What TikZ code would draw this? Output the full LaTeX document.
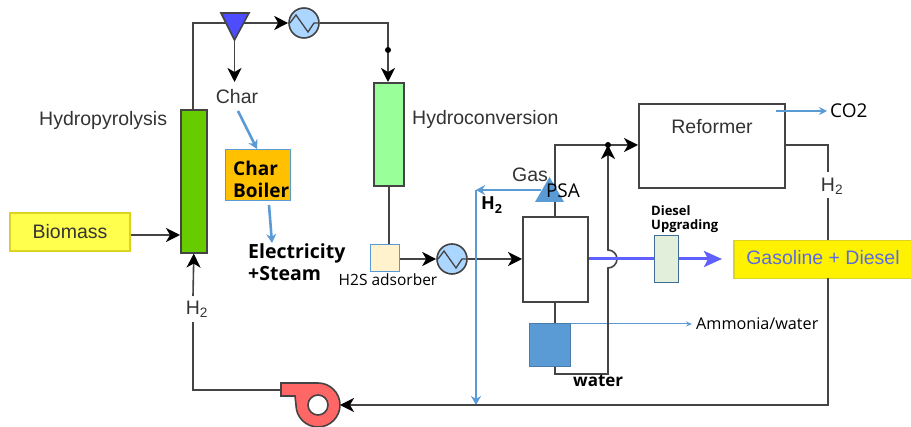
\documentclass[tikz,border=0pt]{standalone}
\usepackage{fontspec}
\setmainfont{Liberation Sans}
\newfontfamily\opensans{Open Sans}
\usetikzlibrary{arrows.meta}
\definecolor{linegray}{HTML}{444444}
\definecolor{textgray}{HTML}{333333}
\definecolor{paleblue}{HTML}{5B9BD5}
\definecolor{flowblue}{HTML}{6060FF}
\definecolor{pyrogreen}{HTML}{66CC00}
\definecolor{hydrogreen}{HTML}{99FF99}
\definecolor{heaterblue}{HTML}{AAD6FF}
\definecolor{cycloneblue}{HTML}{4D4DFF}
\definecolor{boilerorange}{HTML}{FFC000}
\definecolor{adsorbcream}{HTML}{FFF2CC}
\definecolor{dieselgreen}{HTML}{E2EFDA}
\definecolor{pumpred}{HTML}{FF6666}
\definecolor{biomassyellow}{HTML}{FFFF4D}
\definecolor{gasolineblue}{HTML}{5A6CE0}
\tikzset{
  unit/.style={draw=linegray,line width=1.6pt,inner sep=0pt,anchor=north west},
  label/.style={text=textgray,font=\fontsize{19.5}{22}\selectfont,inner sep=0pt},
  tag/.style={font=\opensans\bfseries\fontsize{#1}{#1}\selectfont,inner sep=0pt},
  note/.style={font=\opensans\fontsize{#1}{#1}\selectfont,inner sep=0pt},
  heater/.style={circle,draw=linegray,line width=1.6pt,fill=heaterblue,minimum size=30pt,inner sep=0pt},
  pipe/.style={draw=linegray,line width=1.6pt},
  feed/.style={draw=linegray,line width=1.6pt,-{Stealth[length=14pt,width=14pt,inset=4pt,color=black]}},
  bluearrow/.style={draw=paleblue,line width=2.6pt,-{Stealth[length=9pt,width=10pt]}},
  oilarrow/.style={draw=flowblue,line width=3pt,-{Stealth[length=18pt,width=16pt,inset=4pt]}},
}
\begin{document}
\begin{tikzpicture}[x=1pt,y=1pt]
  \useasboundingbox (0,0) rectangle (911,-427);
  % feed and columns
  \node[draw=yellow!85!black,line width=1.5pt,fill=biomassyellow,minimum width=120pt,minimum height=38pt,inner sep=0pt] (biomass) at (70,-232) {};
  \node[label] (biomasstext) at (biomass.center) {Biomass};
  \node[unit,fill=pyrogreen,minimum width=26pt,minimum height=143pt] (pyro) at (180,-109) {};
  \node[unit,fill=hydrogreen,minimum width=30pt,minimum height=103pt] (hydro) at (373,-82) {};
  \node[label,anchor=west] (pyrotext) at (39,-120) {Hydropyrolysis};
  \node[label,anchor=west] (hydrotext) at (412,-119) {Hydroconversion};
  % heaters
  \foreach \name/\x/\y in {hta/304/-23, htb/452/-259} {
    \node[heater] (\name) at (\x,\y) {};
    \draw[linegray,line width=1.3pt] ([xshift=-14pt]\name.center) -- ++(6,8) -- ++(12,-17) -- ++(6,9) -- ++(5,0);
  }
  % cyclone
  \coordinate (cyctl) at (221,-13);
  \coordinate (cyctr) at (249,-13);
  \coordinate (cycb) at (234.5,-40);
  \draw[pipe,fill=cycloneblue] (cyctl) -- (cyctr) -- (cycb) -- cycle;
  \node[label] (chartext) at (237,-97) {Char};
  \node[draw=paleblue,line width=1pt,fill=boilerorange,minimum width=65pt,minimum height=51pt,inner sep=0pt,anchor=north west] (boiler) at (225,-149) {};
  \node[tag=19,align=left,anchor=west] (boilertext) at (233,-179) {Char\\[3pt]Boiler};
  \node[tag=19.5,align=left,anchor=north west] (elec) at (248,-243) {Electricity\\[3pt]+Steam};
  \coordinate (pyrotop) at (193,-109);
  \coordinate (pyrocorner) at (193,-23);
  \draw[pipe] (pyrotop) -- (pyrocorner) -- (226,-23);
  \draw[feed] (244,-23) -- (hta.west);
  \draw[feed] (cycb) -- (234.5,-82);
  \coordinate (hydrotop) at (388,-82);
  \draw[feed] (hta.east) -| (hydrotop);
  \fill[black] (388,-50) circle (3pt);
  \draw[feed] (biomass.east |- 0,-235) -- (pyro.west |- 0,-235);
  \coordinate (charout) at (238,-111);
  \coordinate (boilerin) at (257,-149);
  \draw[bluearrow] (charout) -- (boilerin);
  \coordinate (boilerout) at (269,-205);
  \coordinate (elecin) at (272,-243);
  \draw[bluearrow] (boilerout) -- (elecin);
  % adsorber and separator
  \node[draw=paleblue,line width=1pt,fill=adsorbcream,minimum width=29pt,minimum height=27pt,inner sep=0pt,anchor=north west] (adsorb) at (370,-244) {};
  \node[note=15.5] (adsorbtext) at (388,-280) {H2S adsorber};
  \node[unit,minimum width=65pt,minimum height=85pt] (sep) at (522,-216) {};
  \node[draw=paleblue!80!black,line width=1pt,fill=paleblue,minimum width=41pt,minimum height=43pt,inner sep=0pt,anchor=north west] (bluebox) at (529,-323) {};
  \node[note=16.2,anchor=west] (ammonia) at (696,-324) {Ammonia/water};
  \draw[pipe] (hydro.south) -- (hydro.south |- adsorb.north);
  \draw[feed] (adsorb.east |- 0,-259) -- (htb.west);
  \draw[feed] (htb.east) -- (sep.west |- htb);
  \draw[paleblue,line width=1pt,-{Stealth[length=6pt,width=5pt]},shorten >=4pt] (bluebox.east |- 0,-324) -- (ammonia.west);
  \coordinate (sepbot) at (555,-301);
  \draw[pipe] (sepbot) -- (sepbot |- bluebox.north);
  % gas to the reformer
  \node[unit,minimum width=146pt,minimum height=84pt] (reformer) at (638,-103) {};
  \node[label] (reformertext) at (712,-127) {Reformer};
  \coordinate (septop) at (555,-216);
  \coordinate (gasjoin) at (608,-145);
  \draw[pipe] (septop) -- (555,-145) -- (gasjoin);
  \draw[feed] (gasjoin) -- (reformer.west |- gasjoin);
  \coordinate (wetbot) at (555,-374);
  \draw[pipe] (wetbot |- bluebox.south) -- (wetbot) -- (608,-374) -- (608,-268) arc[start angle=-90,end angle=90,radius=9pt] -- (608,-162);
  \draw[feed] (608,-162) -- (gasjoin);
  \fill[black] (gasjoin) circle (3pt);
  \node[tag=17,anchor=west] (watertext) at (573,-381) {water};
  \node[label] (gastext) at (530,-175) {Gas};
  % PSA
  \coordinate (psal) at (535,-202);
  \coordinate (psar) at (564,-202);
  \coordinate (psat) at (549.5,-177);
  \fill[paleblue] (psal) -- (psar) -- (psat) -- cycle;
  \node[note=19] (psatext) at (563,-191) {PSA};
  \coordinate (h2corner) at (476,-190);
  \coordinate (h2end) at (476,-405);
  \draw[bluearrow] (541,-190) -- (h2corner);
  \draw[bluearrow] (h2corner) -- (h2end);
  \node[tag=18,anchor=west] (h2blue) at (481,-205) {H\textsubscript{2}};
  % products
  \node[draw=paleblue!70!black,line width=1pt,fill=dieselgreen,minimum width=24pt,minimum height=47pt,inner sep=0pt,anchor=north west] (diesel) at (654,-235) {};
  \node[tag=13,align=left,anchor=south west] (dieseltext) at (651,-233) {Diesel\\[1pt]Upgrading};
  \draw[draw=flowblue,line width=3pt] (sep.east |- 0,-259) -- (diesel.west |- 0,-259);
  \coordinate (oilend) at (722,-259);
  \draw[oilarrow] (diesel.east |- oilend) -- (oilend);
  \node[draw=yellow!85!black,line width=1.5pt,fill=yellow,minimum width=178pt,minimum height=38pt,inner sep=0pt,anchor=north west] (gasoline) at (733,-240) {};
  \node[label,text=gasolineblue] (gasolinetext) at (823,-258) {Gasoline + Diesel};
  \coordinate (co2start) at (776,-111);
  \node[note=19,anchor=west] (co2) at (830,-111) {CO2};
  \draw[paleblue,line width=1.6pt,-{Stealth[length=8pt,width=8pt]},shorten >=3pt] (co2start) -- (co2.west);
  % hydrogen return
  \node[label] (h2right) at (832,-186) {H\textsubscript{2}};
  \node[label] (h2left) at (197,-309) {H\textsubscript{2}};
  \coordinate (pumpout) at (281,-390);
  \coordinate (refout) at (785,-145);
  \draw[pipe] (refout) -| (828,-172);
  \draw[pipe] (828,-198) -- (828,-240);
  \draw[feed] (828,-278) |- (340,-405);
  \draw[pipe] (pumpout) -| (193,-322);
  \draw[feed] (193,-296) -- (pyro.south);
  \draw[pipe,fill=pumpred] (281,-383) -- (318,-383) arc[start angle=90,end angle=-180,radius=22pt] -- (295,-396) -- (281,-396) -- cycle;
  \node[circle,draw=linegray,line width=1.6pt,fill=white,minimum size=20pt,inner sep=0pt] (pump) at (318,-405) {};
\end{tikzpicture}
\end{document}
